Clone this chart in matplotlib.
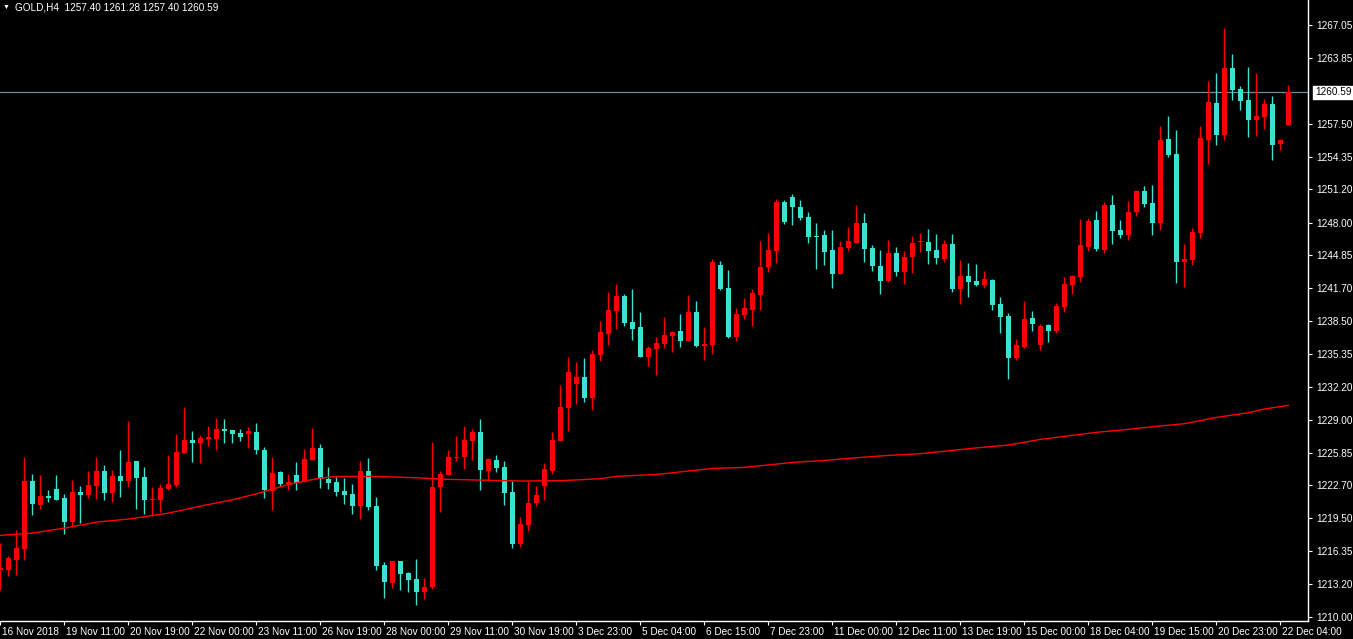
import numpy as np
import matplotlib

matplotlib.use('Agg')
import matplotlib.pyplot as plt
from matplotlib.transforms import ScaledTranslation

plt.rcParams['font.family'] = ['Liberation Sans', 'DejaVu Sans']

# GOLD H4 candles (open, high, low, close)
opens = [
    1214.49, 1214.53, 1215.49, 1216.55, 1223.10, 1220.79, 1221.69, 1222.33, 1221.46, 1219.15,
    1222.04, 1221.75, 1222.62, 1224.07, 1221.95, 1223.58, 1223.10, 1225.03, 1223.49, 1221.27,
    1221.27, 1222.33, 1222.72, 1225.80, 1227.05, 1226.76, 1227.15, 1227.15, 1228.11, 1228.02,
    1227.73, 1227.63, 1227.82, 1226.09, 1222.14, 1223.97, 1222.81, 1223.68, 1223.01, 1225.13,
    1226.28, 1223.30, 1223.01, 1222.14, 1221.85, 1220.69, 1224.07, 1220.69, 1215.01, 1213.27,
    1215.39, 1214.24, 1213.66, 1212.40, 1212.89, 1222.52, 1223.68, 1225.32, 1225.42, 1226.96,
    1227.83, 1224.07, 1225.13, 1224.45, 1222.05, 1217.03, 1218.87, 1220.99, 1222.62, 1224.07,
    1226.96, 1230.14, 1232.45, 1233.13, 1231.10, 1235.25, 1237.27, 1239.49, 1240.93, 1238.43,
    1237.95, 1235.06, 1235.83, 1236.31, 1237.08, 1237.56, 1236.60, 1239.39, 1236.12, 1236.21,
    1243.92, 1241.71, 1236.98, 1239.10, 1239.59, 1241.03, 1243.73, 1245.27, 1249.99, 1250.48,
    1249.51, 1248.55, 1246.72, 1246.81, 1245.37, 1243.06, 1245.56, 1246.04, 1247.97, 1245.56,
    1243.83, 1242.38, 1245.08, 1243.25, 1244.69, 1246.14, 1246.14, 1245.37, 1244.50, 1245.95,
    1241.61, 1242.86, 1242.38, 1242.00, 1242.48, 1240.16, 1239.01, 1234.96, 1236.02, 1238.81,
    1236.21, 1238.14, 1237.56, 1239.87, 1242.00, 1242.77, 1245.66, 1248.26, 1245.37, 1249.70,
    1247.29, 1246.81, 1249.03, 1251.05, 1249.89, 1247.97, 1256.06, 1254.62, 1244.21, 1244.40,
    1247.00, 1255.97, 1259.53, 1256.45, 1262.90, 1260.88, 1259.82, 1257.89, 1258.18, 1259.43,
    1255.58, 1257.40,
]
highs = [
    1217.13, 1215.87, 1218.38, 1225.45, 1223.78, 1223.68, 1222.24, 1223.68, 1221.85, 1223.20,
    1222.62, 1224.07, 1225.42, 1224.64, 1224.16, 1226.09, 1228.88, 1225.03, 1224.45, 1222.52,
    1222.81, 1225.61, 1227.63, 1230.23, 1227.92, 1227.54, 1228.40, 1229.17, 1229.08, 1228.02,
    1228.11, 1228.31, 1228.69, 1226.38, 1225.42, 1224.07, 1223.78, 1224.93, 1226.19, 1228.21,
    1226.67, 1224.45, 1223.49, 1223.39, 1222.81, 1225.03, 1225.32, 1221.56, 1215.30, 1215.39,
    1215.39, 1214.33, 1215.59, 1213.75, 1226.86, 1224.07, 1226.09, 1227.44, 1228.41, 1228.12,
    1229.08, 1225.32, 1225.61, 1225.03, 1223.11, 1219.64, 1223.11, 1222.62, 1224.84, 1227.83,
    1232.36, 1235.06, 1234.57, 1234.96, 1235.73, 1238.52, 1241.32, 1242.09, 1241.13, 1241.61,
    1239.39, 1236.12, 1236.98, 1238.91, 1237.56, 1239.20, 1241.03, 1240.45, 1237.95, 1244.50,
    1244.31, 1243.44, 1239.78, 1240.74, 1241.61, 1246.24, 1247.01, 1250.28, 1250.19, 1250.76,
    1250.19, 1249.03, 1247.97, 1247.30, 1247.30, 1246.24, 1247.59, 1249.70, 1248.93, 1245.85,
    1245.37, 1246.33, 1245.66, 1245.27, 1246.72, 1247.01, 1247.39, 1246.91, 1246.33, 1246.91,
    1244.40, 1244.12, 1244.02, 1243.34, 1242.57, 1240.84, 1239.30, 1236.79, 1240.45, 1239.49,
    1238.24, 1238.24, 1240.26, 1242.77, 1242.96, 1248.36, 1248.45, 1249.13, 1249.99, 1250.67,
    1248.26, 1250.09, 1251.15, 1251.53, 1251.63, 1257.31, 1258.28, 1256.93, 1245.94, 1247.49,
    1257.31, 1261.65, 1262.42, 1266.76, 1264.25, 1261.17, 1263.00, 1262.42, 1259.92, 1260.21,
    1256.06, 1261.28,
]
lows = [
    1212.63, 1213.95, 1214.04, 1215.49, 1219.83, 1220.40, 1221.11, 1221.27, 1217.99, 1218.67,
    1219.05, 1221.46, 1221.37, 1221.27, 1221.08, 1221.56, 1222.52, 1220.40, 1219.92, 1219.73,
    1220.12, 1222.24, 1222.52, 1225.80, 1224.93, 1224.84, 1226.48, 1226.09, 1226.76, 1226.76,
    1226.96, 1226.28, 1225.70, 1221.46, 1220.31, 1222.62, 1222.24, 1222.24, 1223.01, 1225.13,
    1222.43, 1222.33, 1221.66, 1220.89, 1219.92, 1219.44, 1220.31, 1214.53, 1211.83, 1212.79,
    1212.60, 1212.40, 1211.15, 1211.73, 1212.69, 1220.12, 1223.68, 1225.03, 1224.26, 1225.13,
    1222.24, 1223.20, 1223.97, 1220.79, 1216.65, 1216.75, 1218.29, 1220.70, 1221.27, 1223.78,
    1226.96, 1227.92, 1230.53, 1230.72, 1229.95, 1234.67, 1236.21, 1237.75, 1238.04, 1236.69,
    1235.06, 1234.19, 1233.32, 1235.92, 1235.54, 1236.02, 1236.60, 1236.02, 1234.77, 1235.35,
    1241.51, 1236.89, 1236.60, 1238.72, 1238.04, 1239.59, 1243.25, 1244.12, 1247.87, 1247.78,
    1248.26, 1246.04, 1243.54, 1243.92, 1241.71, 1243.06, 1245.27, 1246.04, 1244.21, 1243.34,
    1241.13, 1242.28, 1242.86, 1242.09, 1243.15, 1245.17, 1244.02, 1244.02, 1244.21, 1241.32,
    1240.16, 1240.84, 1241.90, 1241.71, 1239.59, 1237.37, 1232.94, 1234.77, 1235.92, 1237.56,
    1235.73, 1236.50, 1237.37, 1239.39, 1241.13, 1242.28, 1245.27, 1245.27, 1245.08, 1245.94,
    1246.52, 1246.33, 1248.64, 1249.51, 1246.81, 1247.29, 1254.33, 1242.19, 1241.80, 1243.92,
    1246.52, 1253.65, 1255.48, 1255.97, 1259.82, 1258.86, 1256.25, 1256.35, 1257.03, 1254.04,
    1255.00, 1257.40,
]
closes = [
    1214.75, 1215.68, 1216.64, 1223.10, 1220.89, 1221.66, 1221.50, 1221.27, 1219.15, 1222.04,
    1221.75, 1222.72, 1224.07, 1221.95, 1223.58, 1223.10, 1224.93, 1223.39, 1221.27, 1221.37,
    1222.43, 1222.81, 1225.90, 1227.05, 1226.76, 1227.25, 1227.34, 1228.11, 1227.92, 1227.63,
    1227.34, 1227.92, 1226.09, 1222.24, 1223.87, 1222.81, 1223.01, 1222.91, 1225.22, 1226.28,
    1223.30, 1222.91, 1222.04, 1221.75, 1220.69, 1224.07, 1220.60, 1214.91, 1213.37, 1215.39,
    1214.14, 1213.56, 1212.40, 1212.89, 1222.52, 1223.78, 1225.42, 1225.42, 1227.06, 1227.83,
    1224.17, 1225.23, 1224.36, 1221.95, 1217.03, 1218.96, 1220.99, 1221.76, 1224.26, 1227.06,
    1230.24, 1233.61, 1233.13, 1231.10, 1235.34, 1237.46, 1239.59, 1240.93, 1238.33, 1237.75,
    1235.06, 1235.92, 1236.41, 1237.18, 1237.47, 1236.60, 1239.39, 1236.12, 1236.31, 1244.21,
    1241.61, 1236.98, 1239.20, 1239.78, 1241.22, 1243.73, 1245.37, 1249.99, 1248.07, 1249.51,
    1248.45, 1246.62, 1246.62, 1245.17, 1243.06, 1245.66, 1246.24, 1247.97, 1245.46, 1243.83,
    1242.38, 1245.08, 1243.25, 1244.69, 1246.04, 1246.24, 1245.27, 1244.60, 1245.95, 1241.61,
    1242.86, 1242.28, 1242.00, 1242.57, 1240.07, 1238.91, 1234.96, 1236.21, 1238.72, 1238.24,
    1238.04, 1237.56, 1239.97, 1242.09, 1242.86, 1245.85, 1248.16, 1245.46, 1249.70, 1247.20,
    1246.81, 1249.03, 1251.05, 1249.80, 1247.97, 1255.97, 1254.52, 1244.21, 1244.50, 1247.10,
    1256.16, 1259.63, 1256.45, 1262.90, 1260.78, 1259.72, 1257.89, 1258.28, 1259.43, 1255.48,
    1255.97, 1260.59,
]

# moving average, sampled at some bar indices
ma_idx = [0, 4, 8, 12, 16, 21, 25, 29, 32, 34, 36, 38, 40, 42, 47, 52, 56, 65, 70, 75, 77,
          82, 89, 93, 99, 103, 107, 111, 115, 119, 122, 126, 130, 134, 137, 141, 144, 148,
          152, 156, 158, 161]
ma_vals = [1217.87, 1218.09, 1218.57, 1219.15, 1219.44, 1220.02, 1220.69, 1221.30, 1221.88,
           1222.33, 1222.78, 1223.10, 1223.39, 1223.55, 1223.55, 1223.42, 1223.27, 1223.11,
           1223.14, 1223.33, 1223.56, 1223.74, 1224.32, 1224.42, 1224.90, 1225.09, 1225.35,
           1225.58, 1225.74, 1226.06, 1226.30, 1226.58, 1227.12, 1227.51, 1227.80, 1228.09,
           1228.34, 1228.63, 1229.24, 1229.69, 1230.05, 1230.40]

price_ticks = [1210.00, 1213.20, 1216.35, 1219.50, 1222.70, 1225.85, 1229.00, 1232.20,
               1235.35, 1238.50, 1241.70, 1244.85, 1248.00, 1251.20, 1254.35, 1257.50,
               1263.85, 1267.05]
time_labels = ['16 Nov 2018', '19 Nov 11:00', '20 Nov 19:00', '22 Nov 00:00', '23 Nov 11:00',
               '26 Nov 19:00', '28 Nov 00:00', '29 Nov 11:00', '30 Nov 19:00', '3 Dec 23:00',
               '5 Dec 04:00', '6 Dec 15:00', '7 Dec 23:00', '11 Dec 00:00', '12 Dec 11:00',
               '13 Dec 19:00', '15 Dec 00:00', '18 Dec 04:00', '19 Dec 15:00', '20 Dec 23:00',
               '22 Dec 04:00']
label_step = 8

symbol = 'GOLD,H4'
last_price = closes[-1]

BULL = '#ff0000'
BEAR = '#40e0d0'

o = np.array(opens)
h = np.array(highs)
l = np.array(lows)
c = np.array(closes)
x = np.arange(len(o))
colors = [BULL if cc >= oo else BEAR for oo, cc in zip(o, c)]

fig = plt.figure(figsize=(13.53, 6.39), dpi=100, facecolor='black')
ax = fig.add_axes([0, 18 / 639, 1308 / 1353, 621 / 639])
ax.set_facecolor('black')

ax.vlines(x, l, h, colors=colors, linewidth=1.0, zorder=2)
body = np.maximum(np.abs(c - o), 0.08)
ax.bar(x, body, bottom=np.minimum(o, c), width=0.62, color=colors,
       linewidth=0, zorder=3)

ax.plot(ma_idx, ma_vals, color='#ff0000', linewidth=1.0, zorder=4)
ax.axhline(last_price, color='#778899', linewidth=0.9, zorder=1)

ax.set_xlim(-0.0625, 163.44)
ax.set_ylim(1209.62, 1269.46)

for side in ['top', 'left']:
    ax.spines[side].set_visible(False)
for side in ['right', 'bottom']:
    ax.spines[side].set_color('white')
    ax.spines[side].set_linewidth(1.0)

ax.yaxis.tick_right()
ax.set_yticks(price_ticks)
ax.set_yticklabels(['%.2f' % t for t in price_ticks])
ax.tick_params(axis='y', colors='white', length=3, width=0.8, pad=3, labelsize=7.2)

ax.set_xticks(np.arange(len(time_labels)) * label_step)
ax.set_xticklabels(time_labels, ha='left')
ax.tick_params(axis='x', colors='white', length=3, width=0.8, pad=1.5, labelsize=7.2)
shift = ScaledTranslation(2 / 100, 0, fig.dpi_scale_trans)
for lab in ax.get_xticklabels():
    lab.set_transform(lab.get_transform() + shift)

# current price box on the price scale
ax.annotate('%.2f' % last_price, xy=(1, last_price), xycoords=('axes fraction', 'data'),
            xytext=(5, 0), textcoords='offset points', ha='left', va='center',
            fontsize=7.2, color='black',
            bbox=dict(boxstyle='square,pad=0.15', facecolor='white', edgecolor='white'))

fig.text(3 / 1353, 1 - 7 / 639, '\u25bc', color='white', fontsize=5, va='center', ha='left')
fig.text(15 / 1353, 1 - 7 / 639,
         '%s  %.2f %.2f %.2f %.2f' % (symbol, opens[-1], highs[-1], lows[-1], closes[-1]),
         color='white', fontsize=7.2, va='center', ha='left')

fig.savefig('out.png', dpi=100, facecolor='black')
